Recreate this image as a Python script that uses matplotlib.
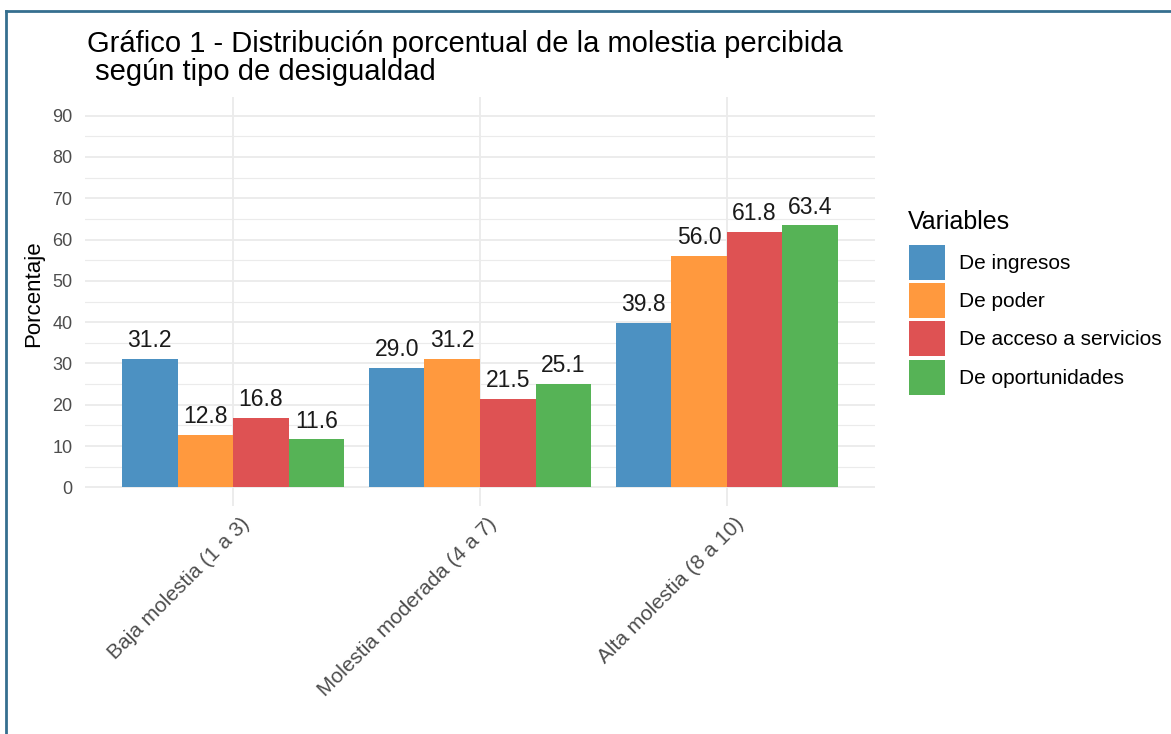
import matplotlib
matplotlib.use("Agg")
import matplotlib.pyplot as plt
import numpy as np
from matplotlib.lines import Line2D
from matplotlib.ticker import MultipleLocator

plt.rcParams['font.family'] = ['Liberation Sans', 'DejaVu Sans']

# data
categories = ["Baja molestia (1 a 3)", "Molestia moderada (4 a 7)", "Alta molestia (8 a 10)"]
series_names = ["De ingresos", "De poder", "De acceso a servicios", "De oportunidades"]
ingresos = [31.2, 29.0, 39.8]
poder = [12.8, 31.2, 56.0]
acceso = [16.8, 21.5, 61.8]
oportunidades = [11.6, 25.1, 63.4]
colors = ["#4C91C2", "#FF993E", "#DE5253", "#56B356"]

W, H = 1171, 734
fig = plt.figure(figsize=(W / 100, H / 100), dpi=100)

def px_axes(left, top, right, bottom):
    return [left / W, 1 - bottom / H, (right - left) / W, (bottom - top) / H]

ax = fig.add_axes(px_axes(85, 97, 875, 506))

x = np.arange(len(categories))
bw = 0.225
all_series = [ingresos, poder, acceso, oportunidades]
handles = []
for i, (vals, name, col) in enumerate(zip(all_series, series_names, colors)):
    pos = x + (i - 1.5) * bw
    b = ax.bar(pos, vals, width=bw, color=col, label=name, zorder=3)
    handles.append(b)
    for xp, v in zip(pos, vals):
        ax.annotate(f"{v:.1f}", (xp, v), xytext=(0, 5), textcoords="offset points",
                    ha="center", va="bottom", fontsize=16.5, color="#1a1a1a", zorder=4)

ax.set_xlim(-0.6, 2.6)
ax.set_ylim(-4.5, 94.5)
ax.yaxis.set_minor_locator(MultipleLocator(5))
ax.set_yticks(np.arange(0, 91, 10))
ax.set_xticks(x)
ax.set_xticklabels([])
# category labels, rotated 45 degrees, anchored at their top-right end
for xi, cat in zip(x, categories):
    ax.annotate(cat, (xi, 0), xycoords=ax.get_xaxis_transform(), xytext=(7, -8),
                textcoords="offset pixels", rotation=45, ha="right", va="top",
                rotation_mode="anchor", fontsize=15, color="#4D4D4D")
ax.tick_params(axis="y", labelsize=13, labelcolor="#4D4D4D", length=0, pad=9)
ax.tick_params(axis="x", length=0, pad=4)
ax.tick_params(which="minor", length=0)

ax.grid(which="major", axis="both", color="#EBEBEB", linewidth=1.3, zorder=0)
ax.grid(which="minor", axis="y", color="#EBEBEB", linewidth=0.8, zorder=0)
for s in ax.spines.values():
    s.set_visible(False)

ax.set_ylabel("Porcentaje", fontsize=16)
ax.yaxis.set_label_coords(-0.052, 0.52)

fig.text(87 / W, 1 - 52 / H, "Gráfico 1 - Distribución porcentual de la molestia percibida",
         fontsize=21, ha="left", va="baseline")
fig.text(87 / W, 1 - 80 / H, " según tipo de desigualdad",
         fontsize=21, ha="left", va="baseline")

# legend
fig.text(908 / W, 1 - 229 / H, "Variables", fontsize=18, ha="left", va="baseline")
leg = fig.legend(handles=handles, labels=series_names,
                 loc="upper left", bbox_to_anchor=(909 / W, 1 - 245 / H),
                 frameon=False, fontsize=15,
                 handlelength=1.75, handleheight=2.2, handletextpad=0.63,
                 labelspacing=0.16, borderaxespad=0, borderpad=0)

# screenshot frame lines (top and left)
fig.add_artist(Line2D([6 / W, 1], [1 - 11 / H, 1 - 11 / H], color="#356F8F", linewidth=2, transform=fig.transFigure))
fig.add_artist(Line2D([6 / W, 6 / W], [0, 1 - 11 / H], color="#356F8F", linewidth=2, transform=fig.transFigure))

fig.savefig("out.png", dpi=100)
